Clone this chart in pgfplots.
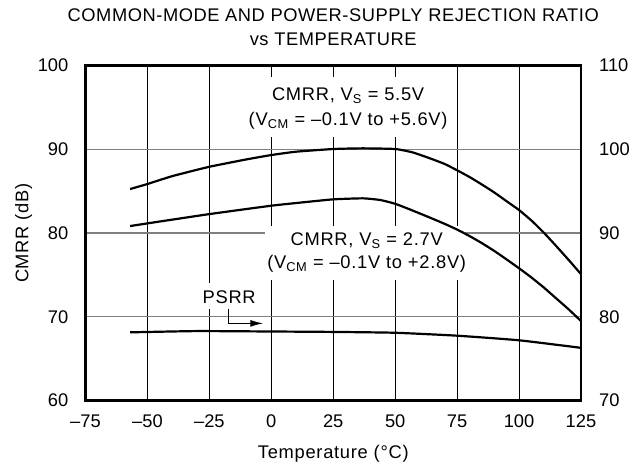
\documentclass[border=0pt]{standalone}
\usepackage{fontspec}
\setmainfont{Liberation Sans}
\newfontfamily\lsfont[LetterSpace=4]{Liberation Sans}
\newfontfamily\ttlfont[LetterSpace=3.0]{Liberation Sans}
\usepackage{pgfplots}
\pgfplotsset{compat=1.18}
\usetikzlibrary{arrows.meta}
\definecolor{gridgray}{RGB}{128,128,128}

\begin{document}
\begin{tikzpicture}[font=\fontsize{18.3bp}{22bp}\selectfont,
  lab/.style={font=\fontsize{18.3bp}{22bp}\lsfont},
  ttl/.style={font=\fontsize{18.3bp}{22bp}\ttlfont}]
\begin{axis}[
  width=495.5bp, height=335bp, scale only axis,
  xmin=-75, xmax=125, ymin=60, ymax=100,
  xtick={-75,-50,-25,0,25,50,75,100,125},
  xticklabels={–75,–50,–25,0,25,50,75,100,125},
  ytick={60,70,80,90,100},
  ytick pos=left, xtick pos=bottom,
  major tick length=0pt,
  grid=major,
  x grid style={black, line width=0.8bp},
  y grid style={gridgray, line width=1.3bp},
  axis line style={black, line width=2.2bp},
  xticklabel style={inner sep=0pt, anchor=base, yshift=-26.5bp},
  yticklabel style={inner sep=0pt, anchor=east, xshift=-17bp},
  /pgf/number format/assume math mode=true,
  clip=false,
]
\coordinate (ll) at (rel axis cs:0,0);
\coordinate (ur) at (rel axis cs:1,1);
\coordinate (tc) at (rel axis cs:0.5,1);
\coordinate (bc) at (rel axis cs:0.5,0);
\coordinate (lc) at (rel axis cs:0,0.5);

% white boxes behind annotations
\fill[white] (axis cs:-10.6,91.47) rectangle (axis cs:72.1,98.64);
\fill[white] (axis cs:-2.5,74.39) rectangle (axis cs:78.0,80.84);
\fill[white] (axis cs:-29.6,70.93) rectangle (axis cs:-4.6,74.1);

\node[lab, anchor=base] at (axis cs:31,95.81) {CMRR, V\textsubscript{S} = 5.5V};
\node[lab, anchor=base] at (axis cs:31,92.9) {(V\textsubscript{CM} = –0.1V to +5.6V)};
\node[lab, anchor=base] at (axis cs:38.5,78.57) {CMRR, V\textsubscript{S} = 2.7V};
\node[lab, anchor=base] at (axis cs:38.5,75.79) {(V\textsubscript{CM} = –0.1V to +2.8V)};
\node[lab, anchor=base] at (axis cs:-17,71.61) {PSRR};
\draw[line width=1.2bp, -{Latex[length=13bp,width=7bp]}] (axis cs:-17.37,70.93) |- (axis cs:-3.24,69.22);

% CMRR, Vs = 5.5V
\addplot[black, line width=2.2bp, smooth, tension=0.3] coordinates {
(-57,85.26) (-50,85.86) (-40,86.8) (-25,87.92) (-10,88.8) (0,89.32) (10,89.72)
(25,90.04) (37,90.12) (50,90.04) (57,89.64) (64,88.93) (70,88.25) (75,87.5)
(80,86.7) (85,85.8) (90,84.85) (95,83.8) (100,82.75) (105,81.5) (110,80.05)
(115,78.45) (120,76.8) (125,75.1)};
% CMRR, Vs = 2.7V
\addplot[black, line width=2.2bp, smooth, tension=0.3] coordinates {
(-57,80.84) (-50,81.16) (-25,82.27) (0,83.27) (12,83.65) (25,84.03) (37,84.15)
(44,83.95) (50,83.5) (57,82.7) (64,81.85) (70,81.1) (75,80.42) (80,79.65)
(85,78.8) (90,77.87) (95,76.85) (100,75.8) (105,74.7) (110,73.5) (115,72.2)
(120,70.9) (125,69.5)};
\end{axis}

\begin{axis}[
  width=495.5bp, height=335bp, scale only axis,
  xmin=-75, xmax=125, ymin=70, ymax=110,
  hide x axis,
  axis y line*=right,
  ytick={70,80,90,100,110},
  major tick length=0pt,
  axis line style={black, line width=2.2bp},
  yticklabel style={inner sep=0pt, anchor=west, xshift=18bp},
  /pgf/number format/assume math mode=true,
  clip=false,
]
% PSRR (right axis)
\addplot[black, line width=2.2bp, smooth, tension=0.3] coordinates {
(-57,78.15) (-30,78.3) (0,78.25) (25,78.2) (50,78.1) (75,77.75) (100,77.2) (125,76.3)};
\end{axis}

\node[ttl, anchor=base] at ([yshift=43.9bp]tc) {COMMON-MODE AND POWER-SUPPLY REJECTION RATIO};
\node[ttl, anchor=base] at ([yshift=19.6bp]tc) {vs TEMPERATURE};
\node[lab, anchor=base] at ([yshift=-57.7bp]bc) {Temperature (°C)};
\node[lab, anchor=base, rotate=90] at ([xshift=-57.2bp]lc) {CMRR (dB)};

\pgfresetboundingbox
\path[use as bounding box] ([shift={(-85.5bp,-70.5bp)}]ll) rectangle ([shift={(54bp,65.6bp)}]ur);
\end{tikzpicture}
\end{document}
